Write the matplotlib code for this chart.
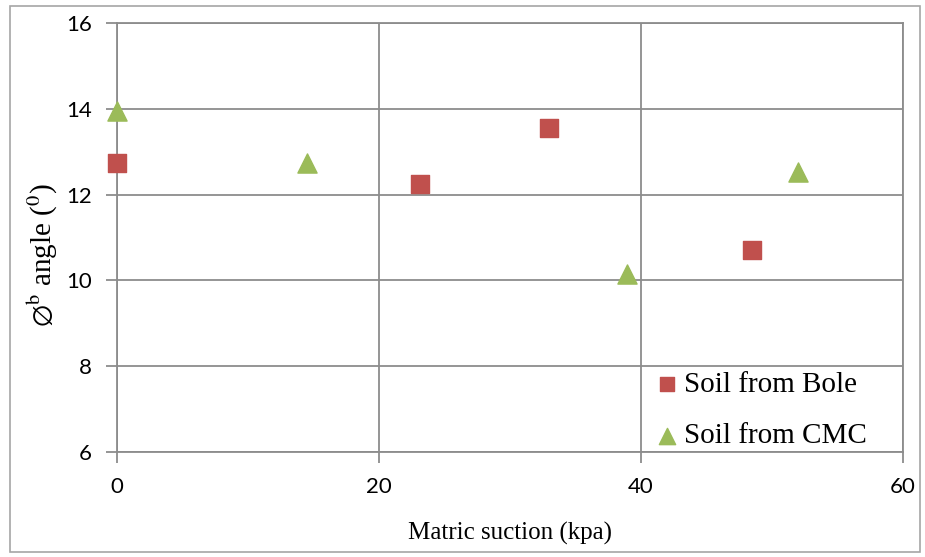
import numpy as np
import matplotlib
matplotlib.use("Agg")
import matplotlib.pyplot as plt
from matplotlib.patches import Rectangle

# data
bole_x = [0, 23.1, 33.0, 48.5]
bole_y = [12.75, 12.25, 13.55, 10.7]
cmc_x = [0, 14.5, 38.9, 52.0]
cmc_y = [13.95, 12.75, 10.15, 12.52]
x_ticks = [0, 20, 40, 60]
y_ticks = [6, 8, 10, 12, 14, 16]

RED = "#C0504D"
GREEN = "#9BBB59"
GRID = "#8C8C8C"

plt.rcParams["mathtext.fontset"] = "stix"

fig = plt.figure(figsize=(9.25, 5.57), dpi=100)
ax = fig.add_axes([117/925, 1-451.7/557, (903-117)/925, (451.7-23.3)/557])

ax.scatter(bole_x, bole_y, marker="s", s=150, color=RED, label="Soil from Bole", zorder=3, clip_on=False)
ax.scatter(cmc_x, cmc_y, marker="^", s=190, color=GREEN, label="Soil from CMC", zorder=3, clip_on=False)

ax.set_xlim(0, 60); ax.set_ylim(6, 16)
ax.set_xticks(x_ticks); ax.set_yticks(y_ticks)
ax.grid(True, color=GRID, lw=1.3)
for s in ax.spines.values():
    s.set_color(GRID); s.set_linewidth(1.3)
ax.tick_params(length=8, width=1.3, color=GRID, labelsize=16, pad=10)
for lab in ax.get_xticklabels() + ax.get_yticklabels():
    lab.set_family("Lato")

ax.set_xlabel("Matric suction (kpa)", family="Liberation Serif", fontsize=18)
ax.xaxis.set_label_coords(0.5, -0.165)
ax.set_ylabel(r"$\varnothing^{\mathrm{b}}$ angle ($^{0}$)", family="Liberation Serif", fontsize=21)
ax.yaxis.set_label_coords(-0.072, 0.46)

leg = ax.legend(loc="lower left", bbox_to_anchor=(0.655, -0.035), frameon=False,
                prop={"family": "Liberation Serif", "size": 21}, markerscale=0.85,
                handletextpad=0.0, labelspacing=0.85, handlelength=1.2, borderaxespad=0.2)

fig.patches.append(Rectangle((10/925, 1-552/557), 910/925, 546/557, transform=fig.transFigure,
                             fill=False, edgecolor="#A6A6A6", lw=1.2))

fig.savefig("out.png", dpi=100)
